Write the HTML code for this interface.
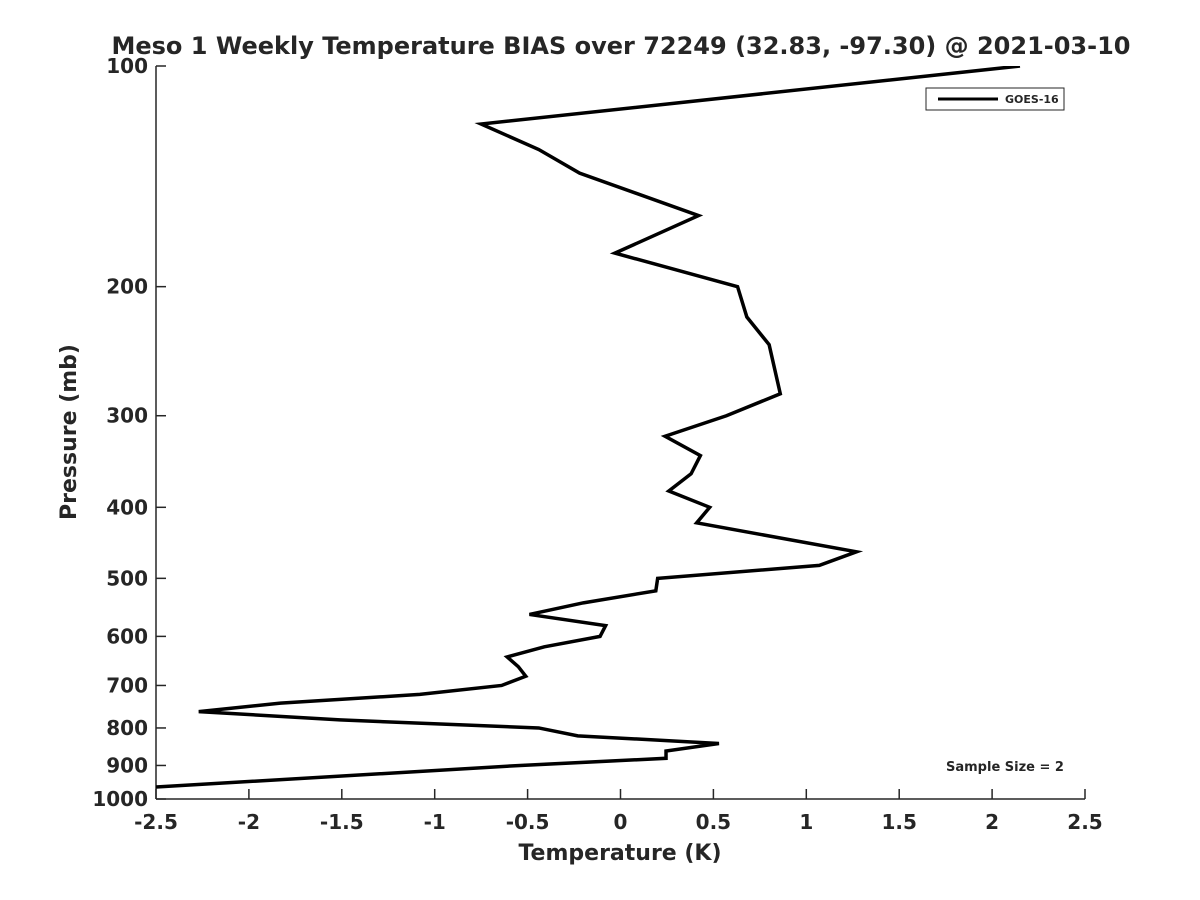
<!DOCTYPE html>
<html><head><meta charset="utf-8"><style>body{margin:0;background:#fff}svg{display:block}text{font-family:"DejaVu Sans","Liberation Sans",sans-serif;font-weight:bold;fill:#262626}</style></head>
<body>
<svg width="1200" height="900">
<g id="plot"></g>
</svg>
<script>
const temps=[2.15,-0.75,-0.44,-0.22,0.42,-0.03,0.63,0.68,0.80,0.86,0.57,0.24,0.43,0.38,0.26,0.48,0.41,1.27,1.07,0.20,0.19,-0.20,-0.49,-0.08,-0.11,-0.41,-0.61,-0.55,-0.51,-0.64,-1.08,-1.83,-2.27,-1.51,-0.44,-0.23,0.53,0.245,0.245,-0.54,-2.5];
const pressures=[100,120,130,140,160,180,200,220,240,280,300,320,340,360,380,400,420,460,480,500,520,540,560,580,600,620,640,660,680,700,720,740,760,780,800,820,840,860,880,900,963];
const xTicks=[-2.5,-2,-1.5,-1,-0.5,0,0.5,1,1.5,2,2.5];
const xTickLabels=["-2.5","-2","-1.5","-1","-0.5","0","0.5","1","1.5","2","2.5"];
const yTicks=[100,200,300,400,500,600,700,800,900,1000];
const yTickLabels=["100","200","300","400","500","600","700","800","900","1000"];
const L=156,R=1085,T=66,B=799;
const xs=v=>L+(v+2.5)/5*(R-L);
const ys=p=>T+Math.log10(p/100)*(B-T);
const NS="http://www.w3.org/2000/svg";
const g=document.getElementById('plot');
function mk(tag,attrs){const e=document.createElementNS(NS,tag);for(const k in attrs)e.setAttribute(k,attrs[k]);g.appendChild(e);return e;}
let e;
e=mk('line',{x1:L,y1:B,x2:R,y2:B,stroke:'#262626','stroke-width':1.5});


e=mk('line',{x1:L,y1:T,x2:L,y2:B,stroke:'#262626','stroke-width':1.5});


xTicks.forEach((v,i)=>{
 e=mk('line',{x1:xs(v),y1:B,x2:xs(v),y2:B-10,stroke:'#262626','stroke-width':1.5});
 
 
 e=mk('text',{x:xs(v),y:B+30,'text-anchor':'middle','font-size':20});
 e.textContent=xTickLabels[i];
 
 
});
yTicks.forEach((p,i)=>{
 e=mk('line',{x1:L,y1:ys(p),x2:L+10,y2:ys(p),stroke:'#262626','stroke-width':1.5});
 
 
 e=mk('text',{x:L-8,y:ys(p)+7,'text-anchor':'end','font-size':20});
 e.textContent=yTickLabels[i];
 
 
});
const cp=mk('clipPath',{id:'clip'});
const cr=document.createElementNS(NS,'rect');cr.setAttribute('x',L);cr.setAttribute('y',T);cr.setAttribute('width',R-L);cr.setAttribute('height',B-T);cp.appendChild(cr);
e=mk('polyline',{points:temps.map((t,i)=>xs(t)+','+ys(pressures[i])).join(' '),fill:'none',stroke:'#000','stroke-width':3.5,'stroke-linejoin':'miter','clip-path':'url(#clip)'});


e=mk('text',{x:621,y:54,'text-anchor':'middle','font-size':24});
e.textContent='Meso 1 Weekly Temperature BIAS over 72249 (32.83, -97.30) @ 2021-03-10';


e=mk('text',{x:620,y:860,'text-anchor':'middle','font-size':22});
e.textContent='Temperature (K)';


e=mk('text',{x:0,y:0,'text-anchor':'middle','font-size':22,transform:'translate(76,432) rotate(-90)'});
e.textContent='Pressure (mb)';


e=mk('rect',{x:926,y:88,width:138,height:22,fill:'#fff',stroke:'#262626','stroke-width':1});


e=mk('line',{x1:938,y1:99,x2:998,y2:99,stroke:'#000','stroke-width':3});


e=mk('text',{x:1005,y:103,'font-size':11});
e.textContent='GOES-16';


e=mk('text',{x:946,y:771,'font-size':13});
e.textContent='Sample Size = 2';


</script>
</body></html>
